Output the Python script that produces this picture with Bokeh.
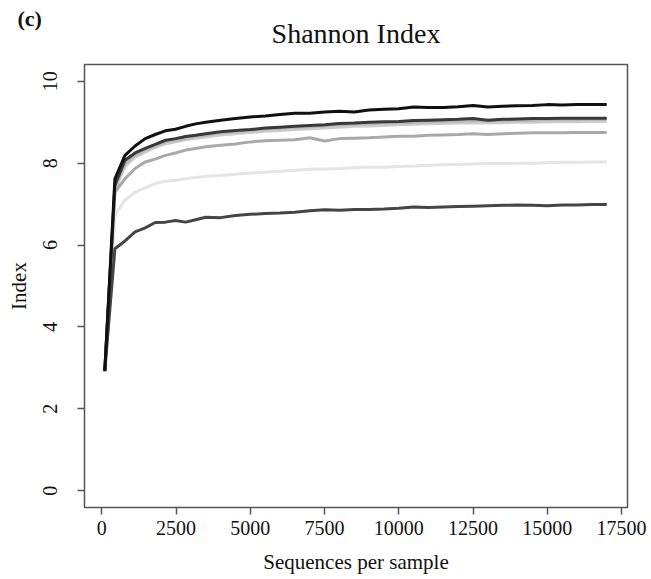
from bokeh.plotting import figure
from bokeh.models import Range1d, FixedTicker, Title
from bokeh.embed import file_html
from bokeh.resources import INLINE

seqs = [100, 440, 780, 1120, 1460, 1800, 2140, 2480, 2820, 3160, 3500, 4000, 4500,
        5000, 5500, 6000, 6500, 7000, 7500, 8000, 8500, 9000, 9500, 10000, 10500,
        11000, 11500, 12000, 12500, 13000, 13500, 14000, 14500, 15000, 15500, 16000,
        16500, 17000]

s1 = [2.93, 7.62, 8.19, 8.42, 8.60, 8.70, 8.79, 8.83, 8.90, 8.96, 9.00, 9.05, 9.09,
      9.13, 9.15, 9.19, 9.22, 9.22, 9.25, 9.27, 9.25, 9.30, 9.32, 9.33, 9.37,
      9.36, 9.36, 9.38, 9.41, 9.37, 9.39, 9.40, 9.41, 9.43, 9.42, 9.43, 9.43, 9.43]
s2 = [2.93, 7.46, 8.07, 8.25, 8.36, 8.46, 8.56, 8.60, 8.65, 8.68, 8.72, 8.77, 8.80,
      8.82, 8.86, 8.88, 8.90, 8.92, 8.94, 8.97, 8.98, 9.00, 9.01, 9.02, 9.04,
      9.05, 9.06, 9.07, 9.09, 9.05, 9.07, 9.08, 9.09, 9.09, 9.10, 9.10, 9.10, 9.10]
s3 = [2.90, 7.40, 7.98, 8.20, 8.32, 8.42, 8.52, 8.56, 8.61, 8.65, 8.69, 8.74, 8.77,
      8.80, 8.83, 8.85, 8.87, 8.89, 8.91, 8.93, 8.95, 8.96, 8.98, 8.99, 9.00,
      9.01, 9.02, 9.03, 9.04, 9.03, 9.04, 9.05, 9.05, 9.06, 9.06, 9.06, 9.07, 9.07]
s4 = [2.90, 7.35, 7.92, 8.15, 8.27, 8.38, 8.47, 8.52, 8.57, 8.61, 8.64, 8.69, 8.72,
      8.75, 8.78, 8.80, 8.82, 8.84, 8.86, 8.88, 8.90, 8.91, 8.92, 8.94, 8.95,
      8.96, 8.97, 8.98, 8.99, 8.98, 8.99, 9.00, 9.00, 9.01, 9.01, 9.01, 9.02, 9.02]
s5 = [2.90, 7.29, 7.62, 7.87, 8.03, 8.10, 8.19, 8.25, 8.32, 8.36, 8.40, 8.44, 8.47,
      8.52, 8.55, 8.56, 8.57, 8.62, 8.54, 8.60, 8.61, 8.62, 8.64, 8.66, 8.66,
      8.68, 8.69, 8.70, 8.72, 8.70, 8.72, 8.73, 8.74, 8.74, 8.74, 8.75, 8.75, 8.75]
s6 = [2.90, 6.72, 7.10, 7.29, 7.40, 7.50, 7.56, 7.58, 7.62, 7.65, 7.68, 7.70, 7.73,
      7.76, 7.78, 7.80, 7.83, 7.85, 7.86, 7.87, 7.89, 7.90, 7.90, 7.92, 7.93,
      7.95, 7.96, 7.97, 7.98, 7.99, 7.99, 8.00, 8.00, 8.01, 8.02, 8.02, 8.03, 8.03]
s7 = [2.93, 5.91, 6.10, 6.32, 6.42, 6.55, 6.56, 6.60, 6.56, 6.62, 6.68, 6.67, 6.72,
      6.75, 6.77, 6.78, 6.80, 6.84, 6.86, 6.85, 6.87, 6.87, 6.88, 6.90, 6.93,
      6.92, 6.93, 6.94, 6.95, 6.96, 6.97, 6.98, 6.97, 6.96, 6.98, 6.98, 6.99, 6.99]

series = [s6, s4, s5, s3, s7, s2, s1]
colors = ["#e4e4e4", "#cccccc", "#a9a9a9", "#b8b8b8", "#454545", "#383838", "#101010"]

x_ticks = [0, 2500, 5000, 7500, 10000, 12500, 15000, 17500]
y_ticks = [0, 2, 4, 6, 8, 10]

FONT = "Liberation Serif"

p = figure(width=651, height=579, output_backend="svg", toolbar_location=None,
           x_range=Range1d(-583, 17700), y_range=Range1d(-0.41, 10.41),
           min_border_left=84, min_border_right=24, min_border_top=64,
           min_border_bottom=72)
p.background_fill_color = "white"
p.border_fill_color = "white"
p.outline_line_color = "#555555"
p.outline_line_width = 1.5
p.grid.visible = False

for ys, c in zip(series, colors):
    p.line(seqs, ys, line_color=c, line_width=3)

p.xaxis.ticker = FixedTicker(ticks=x_ticks)
p.yaxis.ticker = FixedTicker(ticks=y_ticks)
for ax in (p.xaxis, p.yaxis):
    ax.axis_line_color = None
    ax.major_tick_line_color = "#555555"
    ax.major_tick_line_width = 1.5
    ax.major_tick_out = 7
    ax.major_tick_in = 0
    ax.minor_tick_line_color = None
    ax.major_label_text_font = FONT
    ax.major_label_text_font_size = "20px"
    ax.major_label_text_color = "#111111"
    ax.axis_label_text_font = FONT
    ax.axis_label_text_font_size = "21px"
    ax.axis_label_text_font_style = "normal"
    ax.axis_label_text_color = "#111111"

p.xaxis.axis_label = "Sequences per sample"
p.yaxis.axis_label = "Index"
p.yaxis.major_label_orientation = "vertical"
p.xaxis.major_label_standoff = 6
p.xaxis.axis_label_standoff = 12
p.yaxis.major_label_standoff = 20
p.yaxis.axis_label_standoff = 10

# panel letter as the outer title
p.title.text = "(c)"
p.title.align = "left"
p.title.offset = -67
p.title.text_font = FONT
p.title.text_font_size = "22px"
p.title.text_font_style = "bold"
p.title.text_color = "#111111"
p.title.standoff = -54

# main heading as the inner title
ts = Title(text="Shannon Index", align="center", vertical_align="top",
           text_font=FONT, text_font_size="28px", text_font_style="normal",
           text_color="#111111", standoff=28)
p.add_layout(ts, "above")

open("out.html", "w").write(file_html(p, INLINE))
